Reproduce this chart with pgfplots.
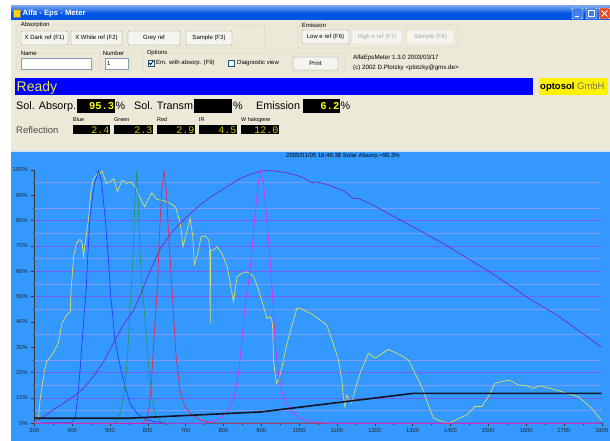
\documentclass[border=0pt]{standalone}
\usepackage{pgfplots}
\pgfplotsset{compat=1.18}
\usepackage{fontspec}
\setmainfont{Liberation Sans}
\newfontfamily\monof{Liberation Mono}
\definecolor{winbg}{RGB}{236,233,216}
\definecolor{plotbg}{RGB}{51,153,255}
\definecolor{gridmaj}{RGB}{115,95,240}
\definecolor{gridmin}{RGB}{125,155,255}
\definecolor{cyel}{RGB}{215,225,100}
\definecolor{cblue}{RGB}{40,60,255}
\definecolor{cgreen}{RGB}{40,150,100}
\definecolor{cred}{RGB}{225,40,90}
\definecolor{cmag}{RGB}{225,40,245}
\definecolor{cpur}{RGB}{115,45,175}
\definecolor{cblack}{RGB}{20,20,35}
\definecolor{readyblue}{RGB}{0,0,255}
\definecolor{readytxt}{RGB}{235,235,70}
\definecolor{valyel}{RGB}{255,255,0}
\definecolor{valolive}{RGB}{205,205,0}
\definecolor{grpline}{RGB}{208,208,191}
\definecolor{btnface}{RGB}{245,244,239}
\definecolor{disabled}{RGB}{172,168,153}
\definecolor{fieldline}{RGB}{127,157,185}
\definecolor{tbar}{RGB}{0,84,227}
\definecolor{chkline}{RGB}{28,81,128}
\newcommand{\sz}[1]{\fontsize{#1}{#1}\selectfont}
\newcommand{\btn}[5]{\draw[black!45, fill=btnface, rounded corners=1.2pt] (#1,#2) rectangle (#3,#4);
  \node[font=\sz{6}, inner sep=0] at ({(#1+#3)/2},{(#2+#4)/2}) {#5};}
\newcommand{\btnd}[5]{\draw[grpline, fill=btnface, rounded corners=1.2pt] (#1,#2) rectangle (#3,#4);
  \node[font=\sz{6}, text=disabled, inner sep=0] at ({(#1+#3)/2},{(#2+#4)/2}) {#5};}
\begin{document}
\begin{tikzpicture}
\useasboundingbox (0pt,0pt) rectangle (610pt,441pt);
\begin{scope}[x=1pt,y=-1pt,shift={(0pt,441pt)}]
\fill[white] (0,0) rectangle (610,441);
\fill[winbg] (11,20) rectangle (610,152);
% title bar
\shade[top color=tbar!55!white, bottom color=tbar, middle color=tbar] (11,6) rectangle (610,20);
\fill[yellow!70!orange] (13,9) rectangle (20,17);
\draw[black!50] (13,9) rectangle (20,17);
\node[anchor=west, text=white, font=\bfseries\sz{7.7}, inner sep=0] at (22.5,13.5) {Alfa - Eps - Meter};
\draw[white, fill=tbar!75!white, rounded corners=1pt] (572,8) rectangle (583,19);
\draw[white, line width=1.2pt] (574.5,16.3)--(578.5,16.3);
\draw[white, fill=tbar!75!white, rounded corners=1pt] (586,8) rectangle (597,19);
\draw[white, line width=0.7pt] (588.5,10.5) rectangle (594.5,16.5);
\draw[white, fill={rgb,255:red,225;green,75;blue,40}, rounded corners=1pt] (599,8) rectangle (610,19);
\draw[white, line width=1pt] (601.5,10.5)--(607.5,16.5) (601.5,16.5)--(607.5,10.5);
% absorption group
\draw[grpline, rounded corners=2pt] (17,25) rectangle (265,48);
\node[fill=winbg, inner sep=0.6pt, anchor=west, font=\sz{6}] at (20,25) {Absorption};
\btn{21}{31}{68}{45}{X Dark ref (F1)}
\btn{71}{31}{122}{45}{X White ref (F2)}
\btn{128}{31}{180}{45}{Grey ref}
\btn{186}{31}{232}{45}{Sample (F3)}
% emission group
\draw[grpline, rounded corners=2pt] (298,25) rectangle (458,48);
\node[fill=winbg, inner sep=0.6pt, anchor=west, font=\sz{6}] at (301,25) {Emission};
\btn{302}{30}{349}{44}{Low e ref (F6)}
\btnd{352}{30}{402}{44}{High e ref (F7)}
\btnd{407}{30}{454}{44}{Sample (F8)}
% name, number, options
\draw[grpline, rounded corners=2pt] (17,53) rectangle (93,72);
\node[fill=winbg, inner sep=0.6pt, anchor=west, font=\sz{6}] at (20,53) {Name};
\draw[fieldline, fill=white] (21,58) rectangle (91,69);
\draw[grpline, rounded corners=2pt] (100,53) rectangle (131,72);
\node[fill=winbg, inner sep=0.6pt, anchor=west, font=\sz{6}] at (102,53) {Number};
\draw[fieldline, fill=white] (105,58) rectangle (128,69);
\node[anchor=west, font=\sz{6}, inner sep=0] at (107,63.5) {1};
\draw[grpline, rounded corners=2pt] (143,53) rectangle (345,72);
\node[fill=winbg, inner sep=0.6pt, anchor=west, font=\sz{6}] at (146,53) {Options};
\draw[chkline, fill=white] (148,60) rectangle (154,66);
\draw[black, line width=0.8pt] (149.2,62.8)--(150.6,64.6)--(153,61.2);
\node[anchor=west, font=\sz{6}, inner sep=0] at (156,63) {Em. with absorp. (F9)};
\draw[chkline, fill=white] (228,60) rectangle (234,66);
\node[anchor=west, font=\sz{6}, inner sep=0] at (237,63) {Diagnostic view};
\btn{293}{57}{338}{70}{Print}
\node[anchor=west, font=\sz{6.2}, inner sep=0] at (353,58) {AlfaEpsMeter 1.3.0 2003/03/17};
\node[anchor=west, font=\sz{6.2}, inner sep=0] at (353,67.5) {(c) 2002 D.Plotzky <plotzky@gmx.de>};
% ready bar
\fill[readyblue] (15,78) rectangle (533,95);
\node[anchor=base west, text=readytxt, font=\sz{14}, inner sep=0] at (16.5,91.5) {Ready};
\fill[yellow] (539,78) rectangle (608,95);
\node[anchor=base west, font=\sz{9.5}, inner sep=0] at (540,90) {\textbf{optosol} \textcolor{black!55}{GmbH}};
% values row
\node[anchor=base west, font=\sz{10.8}, inner sep=0] at (16,109.5) {Sol. Absorp.};
\fill[black] (77,99) rectangle (115,113);
\node[anchor=base east, font=\monof\bfseries\sz{10.5}, text=valyel, inner sep=0] at (114.5,109.5) {95.3};
\node[anchor=base west, font=\sz{10.8}, inner sep=0] at (115.5,109.5) {\%};
\node[anchor=base west, font=\sz{10.8}, inner sep=0] at (134,109.5) {Sol. Transm.};
\fill[black] (194,99) rectangle (232,113);
\node[anchor=base west, font=\sz{10.8}, inner sep=0] at (233,109.5) {\%};
\node[anchor=base west, font=\sz{10.8}, inner sep=0] at (256,109.5) {Emission};
\fill[black] (303,99) rectangle (340,113);
\node[anchor=base east, font=\monof\bfseries\sz{10.5}, text=valyel, inner sep=0] at (339.5,109.5) {6.2};
\node[anchor=base west, font=\sz{10.8}, inner sep=0] at (340.5,109.5) {\%};
% reflection row
\node[anchor=base west, font=\sz{9.5}, text=black!70, inner sep=0] at (16,133.5) {Reflection};
\foreach \xa/\xb/\lab/\val in {73/110/Blue/2.4, 114/153/Green/2.3, 157/195/Red/2.9, 199/237/IR/4.5, 241/279/W halogene/12.0}{
  \node[anchor=base west, font=\sz{5.5}, inner sep=0] at (\xa,122) {\lab};
  \fill[black] (\xa,125) rectangle (\xb,134.5);
  \node[anchor=base east, font=\monof\sz{10}, text=valolive, inner sep=0] at ({\xb-0.5},133.3) {\val};
}
% plot panel
\fill[plotbg] (11,152) rectangle (610,441);
\draw[white!70!plotbg] (11,151.5)--(610,151.5);
\node[anchor=base, font=\sz{6}, inner sep=0] at (343,158) {2005/01/05 16:46:38 Solar Absorp.=95.3\%};
\end{scope}
\begin{axis}[
  at={(34.3pt,17.7pt)}, anchor=south west,
  scale only axis, width=567.4pt, height=253.3pt,
  xmin=300, xmax=1800, ymin=0, ymax=100,
  axis x line*=bottom, axis y line*=left,
  axis line style={draw=black!80, line width=0.5pt},
  every tick/.style={draw=black!80, line width=0.4pt},
  tick align=outside, major tick length=3pt, minor tick length=1.6pt,
  xtick={300,400,...,1800}, minor x tick num=1,
  ytick={0,10,...,100}, minor y tick num=1,
  yticklabel={\pgfmathprintnumber{\tick}\%},
  ticklabel style={font=\sz{5.8}, text=black!85},
  xticklabel style={yshift=1pt},
  /pgf/number format/assume math mode=true,
  /pgf/number format/1000 sep={},
]
% horizontal grid lines as in the reference (none at 30, 40, 90, 100)
\pgfplotsinvokeforeach{5,15,25,35,45,55,65,75,85,95}{
  \draw[gridmin, line width=0.7pt] (axis cs:300,#1) -- (axis cs:1800,#1);
}
\pgfplotsinvokeforeach{10,20,50,60,70,80}{
  \draw[gridmaj, line width=0.7pt] (axis cs:300,#1) -- (axis cs:1800,#1);
}
% yellow sample spectrum
\addplot[cyel, line width=0.7pt] coordinates {
(300,0) (306,1.3) (311,2) (315,9) (320,14) (326,20) (333,24.5) (342,26) (351,28) (364,32) (373,39.5) (386,43) (395,44) (397,52)
(404,66) (411,71) (420,72.6) (426,71.7) (430,66) (437,73.7) (444,81.6) (450,92) (457,96.7) (466,98.4) (474,98.7) (479,99.7)
(490,94.7) (501,95.4) (510,96.7) (520,91.4) (532,96) (545,94.7) (554,95.4) (567,93.4) (580,88.8) (592,85.5) (600,88.2) (611,91)
(624,88.4) (642,87.9) (660,86.8) (673,85.5) (686,79) (693,69.7) (702,75) (712,80.9) (719,73.7) (723,62.5) (732,67) (741,73.7)
(752,74) (761,72.4) (764,68.4) (765,39.5) (766,68.4) (774,68.4) (783,69.7) (796,67) (810,61.8) (818,55.3) (824,50) (827,48)
(830,52) (836,57.9) (849,59.2) (862,59.8) (880,57.9) (893,52.6) (906,46) (915,41.4) (924,42) (929,40) (931,35.5) (932,25)
(940,15.8) (946,17) (955,22.3) (968,31.6) (980,38) (994,45.4) (1003,45.4) (1037,42.8) (1073,38.8) (1090,31.6) (1104,25)
(1113,17.1) (1117,10.5) (1121,6.6) (1126,11.2) (1133,9.2) (1139,7.9) (1148,13.1) (1161,19.7) (1183,27.6) (1201,25.7)
(1236,29.2) (1267,27) (1289,25) (1311,18.4) (1324,14.5) (1337,9.2) (1355,2) (1394,0) (1443,3.3) (1465,6.6) (1483,6.6)
(1500,10.5) (1518,15.8) (1536,16.4) (1556,17.1) (1580,15.1) (1602,14.8) (1619,13.8) (1637,14.8) (1659,14) (1694,12.5)
(1717,11.4) (1738,10.5) (1769,6.6) (1795,2) (1800,1)};
% blue filter
\addplot[cblue, line width=0.7pt] coordinates {
(300,0) (399,0.3) (408,2) (414,9.2) (421,21) (430,39.5) (437,52.6) (440,62) (447,81.6) (459,94.7) (470,99.7) (478,94.7)
(487,81.6) (496,64.5) (502,50) (505,46) (513,32.9) (527,22.4) (540,14.5) (553,7.9) (571,4) (588,2) (615,0.7) (650,0) (1800,0)};
% green filter
\addplot[cgreen, line width=0.7pt] coordinates {
(300,0) (510,0) (518,0.7) (527,4) (536,10.5) (543,19.7) (549,33) (553,45) (557,55) (562,68.4) (566,88) (571,99.7)
(575,88) (579,68.4) (584,56) (587,51) (590,46) (597,32.9) (604,19.7) (610,10.5) (619,4) (633,0.7) (650,0) (1800,0)};
% purple lamp curve
\addplot[cpur, line width=0.7pt] coordinates {
(300,0.6) (324,2.6) (350,5.3) (377,7.9) (403,10.5) (430,13.8) (456,18.4) (483,24.3) (509,31.6) (535,38.8) (562,44.5)
(580,50.5) (606,60) (633,69) (668,76.3) (704,81.6) (738,86.2) (774,90.1) (809,93.4) (844,96.7) (879,98.7) (906,99.7)
(932,99.7) (967,98.9) (1002,97.5) (1020,96.2) (1033,95) (1045,95.3) (1064,94.7) (1080,94) (1099,92.8) (1120,91.6)
(1143,88.8) (1160,88.6) (1187,86.8) (1230,83.3) (1267,80.3) (1320,76) (1381,71) (1440,65.6) (1496,60.5) (1576,52.6)
(1610,49) (1681,42.8) (1740,36.5) (1800,30)};
% red filter
\addplot[cred, line width=0.7pt] coordinates {
(300,0) (585,0) (597,1.3) (604,6.6) (610,17.1) (616,32.9) (622,46) (626,55) (631,75) (637,92) (643,99.7) (649,92)
(655,75) (663,55.3) (667,46) (675,26.3) (685,13.1) (698,6.6) (716,3.3) (739,1.3) (775,0) (1800,0)};
% IR filter
\addplot[cmag, line width=0.7pt] coordinates {
(300,0) (750,0) (782,1.3) (809,4) (827,9.2) (840,19.7) (849,32.9) (857,46) (860,50) (866,55.3) (874,65.8) (883,81.6)
(892,94.7) (898,99.7) (906,94.7) (914,81.6) (923,65.8) (930,50) (932,46) (936,32.9) (945,19.7) (958,10.5) (976,5.3)
(1002,2) (1036,0.5) (1080,0) (1800,0)};
% black curve
\addplot[cblack, line width=1.6pt] coordinates {
(300,2) (550,2) (900,4.5) (1300,11.8) (1800,11.8)};
\end{axis}
\end{tikzpicture}
\end{document}
